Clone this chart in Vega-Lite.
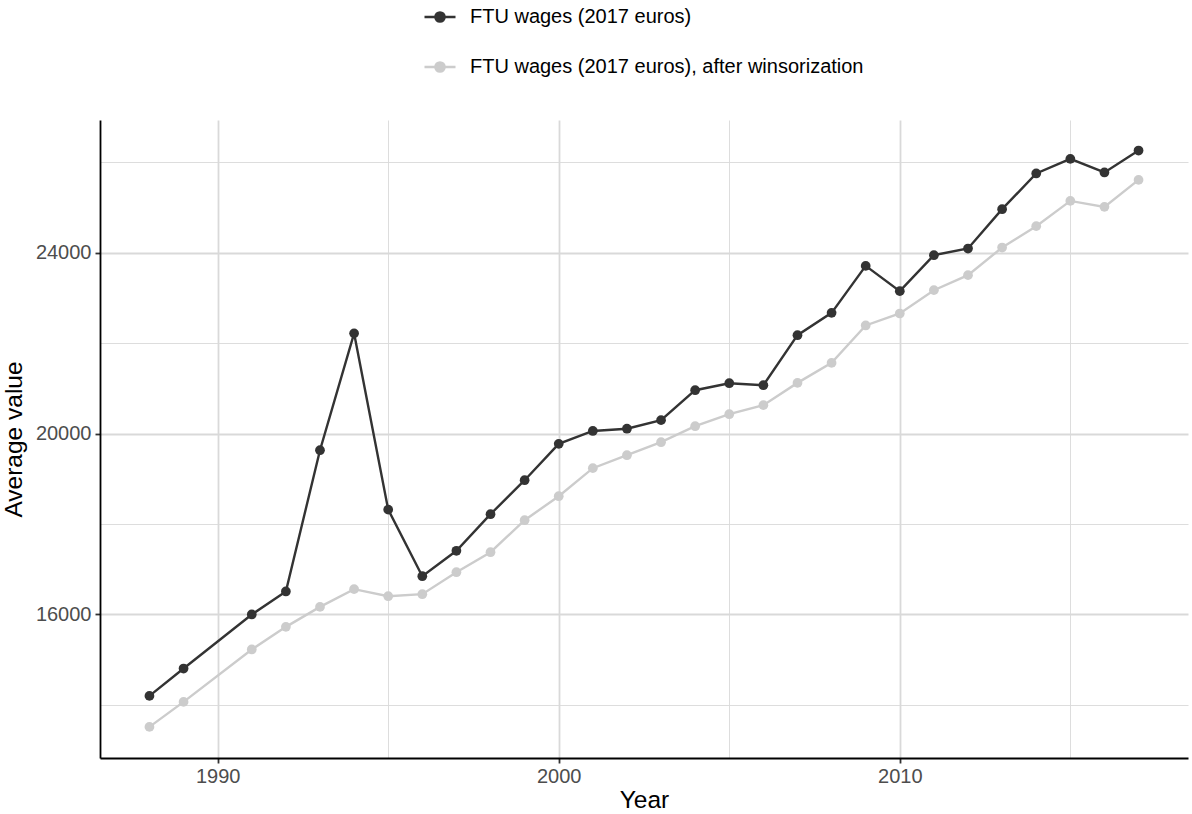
{
  "$schema": "https://vega.github.io/schema/vega-lite/v6.json",
  "width": 1088,
  "height": 638,
  "autosize": {"type": "none"},
  "padding": {"left": 100, "top": 120, "right": 4, "bottom": 56},
  "config": {
    "view": {"stroke": null},
    "font": "Liberation Sans",
    "axis": {
      "gridColor": "#d9d9d9",
      "domainColor": "#000000",
      "domainWidth": 1.8,
      "tickColor": "#333333",
      "tickSize": 5,
      "tickWidth": 1.8,
      "labelFontSize": 20,
      "labelColor": "#4d4d4d",
      "labelFont": "Liberation Sans",
      "titleFont": "Liberation Sans",
      "titleFontSize": 24.5,
      "titleFontWeight": "normal",
      "titleColor": "#000000"
    }
  },
  "data": {
    "values": [
      {"year": 1988, "value": 14199, "series": "FTU wages (2017 euros)"},
      {"year": 1989, "value": 14805, "series": "FTU wages (2017 euros)"},
      {"year": 1991, "value": 16000, "series": "FTU wages (2017 euros)"},
      {"year": 1992, "value": 16510, "series": "FTU wages (2017 euros)"},
      {"year": 1993, "value": 19635, "series": "FTU wages (2017 euros)"},
      {"year": 1994, "value": 22220, "series": "FTU wages (2017 euros)"},
      {"year": 1995, "value": 18320, "series": "FTU wages (2017 euros)"},
      {"year": 1996, "value": 16847, "series": "FTU wages (2017 euros)"},
      {"year": 1997, "value": 17410, "series": "FTU wages (2017 euros)"},
      {"year": 1998, "value": 18219, "series": "FTU wages (2017 euros)"},
      {"year": 1999, "value": 18971, "series": "FTU wages (2017 euros)"},
      {"year": 2000, "value": 19775, "series": "FTU wages (2017 euros)"},
      {"year": 2001, "value": 20060, "series": "FTU wages (2017 euros)"},
      {"year": 2002, "value": 20110, "series": "FTU wages (2017 euros)"},
      {"year": 2003, "value": 20300, "series": "FTU wages (2017 euros)"},
      {"year": 2004, "value": 20962, "series": "FTU wages (2017 euros)"},
      {"year": 2005, "value": 21117, "series": "FTU wages (2017 euros)"},
      {"year": 2006, "value": 21073, "series": "FTU wages (2017 euros)"},
      {"year": 2007, "value": 22179, "series": "FTU wages (2017 euros)"},
      {"year": 2008, "value": 22673, "series": "FTU wages (2017 euros)"},
      {"year": 2009, "value": 23712, "series": "FTU wages (2017 euros)"},
      {"year": 2010, "value": 23153, "series": "FTU wages (2017 euros)"},
      {"year": 2011, "value": 23949, "series": "FTU wages (2017 euros)"},
      {"year": 2012, "value": 24097, "series": "FTU wages (2017 euros)"},
      {"year": 2013, "value": 24967, "series": "FTU wages (2017 euros)"},
      {"year": 2014, "value": 25757, "series": "FTU wages (2017 euros)"},
      {"year": 2015, "value": 26080, "series": "FTU wages (2017 euros)"},
      {"year": 2016, "value": 25779, "series": "FTU wages (2017 euros)"},
      {"year": 2017, "value": 26265, "series": "FTU wages (2017 euros)"},
      {"year": 1988, "value": 13513, "series": "FTU wages (2017 euros), after winsorization"},
      {"year": 1989, "value": 14066, "series": "FTU wages (2017 euros), after winsorization"},
      {"year": 1991, "value": 15226, "series": "FTU wages (2017 euros), after winsorization"},
      {"year": 1992, "value": 15726, "series": "FTU wages (2017 euros), after winsorization"},
      {"year": 1993, "value": 16168, "series": "FTU wages (2017 euros), after winsorization"},
      {"year": 1994, "value": 16560, "series": "FTU wages (2017 euros), after winsorization"},
      {"year": 1995, "value": 16405, "series": "FTU wages (2017 euros), after winsorization"},
      {"year": 1996, "value": 16449, "series": "FTU wages (2017 euros), after winsorization"},
      {"year": 1997, "value": 16936, "series": "FTU wages (2017 euros), after winsorization"},
      {"year": 1998, "value": 17378, "series": "FTU wages (2017 euros), after winsorization"},
      {"year": 1999, "value": 18086, "series": "FTU wages (2017 euros), after winsorization"},
      {"year": 2000, "value": 18617, "series": "FTU wages (2017 euros), after winsorization"},
      {"year": 2001, "value": 19237, "series": "FTU wages (2017 euros), after winsorization"},
      {"year": 2002, "value": 19524, "series": "FTU wages (2017 euros), after winsorization"},
      {"year": 2003, "value": 19812, "series": "FTU wages (2017 euros), after winsorization"},
      {"year": 2004, "value": 20166, "series": "FTU wages (2017 euros), after winsorization"},
      {"year": 2005, "value": 20431, "series": "FTU wages (2017 euros), after winsorization"},
      {"year": 2006, "value": 20631, "series": "FTU wages (2017 euros), after winsorization"},
      {"year": 2007, "value": 21124, "series": "FTU wages (2017 euros), after winsorization"},
      {"year": 2008, "value": 21566, "series": "FTU wages (2017 euros), after winsorization"},
      {"year": 2009, "value": 22394, "series": "FTU wages (2017 euros), after winsorization"},
      {"year": 2010, "value": 22659, "series": "FTU wages (2017 euros), after winsorization"},
      {"year": 2011, "value": 23175, "series": "FTU wages (2017 euros), after winsorization"},
      {"year": 2012, "value": 23507, "series": "FTU wages (2017 euros), after winsorization"},
      {"year": 2013, "value": 24119, "series": "FTU wages (2017 euros), after winsorization"},
      {"year": 2014, "value": 24591, "series": "FTU wages (2017 euros), after winsorization"},
      {"year": 2015, "value": 25150, "series": "FTU wages (2017 euros), after winsorization"},
      {"year": 2016, "value": 25018, "series": "FTU wages (2017 euros), after winsorization"},
      {"year": 2017, "value": 25615, "series": "FTU wages (2017 euros), after winsorization"}
    ]
  },
  "mark": {"type": "line", "strokeWidth": 2.4, "point": {"filled": true, "size": 95, "opacity": 1}},
  "encoding": {
    "x": {
      "field": "year",
      "type": "quantitative",
      "scale": {"domain": [1986.55, 2018.45], "nice": false, "zero": false},
      "axis": {
        "values": [1990, 1995, 2000, 2005, 2010, 2015],
        "labelExpr": "datum.value % 10 === 0 ? datum.label : ''",
        "format": "d",
        "grid": true,
        "gridWidth": {"condition": {"test": "datum.value % 10 === 0", "value": 1.8}, "value": 0.9},
        "tickOpacity": {"condition": {"test": "datum.value % 10 === 0", "value": 1}, "value": 0},
        "labelPadding": 3,
        "title": "Year",
        "titlePadding": 2
      }
    },
    "y": {
      "field": "value",
      "type": "quantitative",
      "scale": {"domain": [12825, 26940], "nice": false, "zero": false},
      "axis": {
        "values": [14000, 16000, 18000, 20000, 22000, 24000, 26000],
        "labelExpr": "datum.value % 4000 === 0 ? format(datum.value, 'd') : ''",
        "grid": true,
        "gridWidth": {"condition": {"test": "datum.value % 4000 === 0", "value": 1.8}, "value": 0.9},
        "tickOpacity": {"condition": {"test": "datum.value % 4000 === 0", "value": 1}, "value": 0},
        "labelPadding": 4,
        "title": "Average value",
        "titleX": -74,
        "titleBaseline": "bottom"
      }
    },
    "color": {
      "field": "series",
      "type": "nominal",
      "scale": {
        "domain": ["FTU wages (2017 euros)", "FTU wages (2017 euros), after winsorization"],
        "range": ["#333333", "#cccccc"]
      },
      "legend": {
        "orient": "none",
        "legendX": 323,
        "legendY": -120,
        "direction": "vertical",
        "title": null,
        "symbolType": "M-1,0L1,0M-0.3,0A0.3,0.3,0,1,1,0.3,0A0.3,0.3,0,1,1,-0.3,0Z",
        "symbolSize": 961,
        "symbolStrokeWidth": 2.4,
        "labelFontSize": 20,
        "labelLimit": 0,
        "labelColor": "#000000",
        "labelFont": "Liberation Sans",
        "labelOffset": 13,
        "rowPadding": 23,
        "encode": {
          "symbols": {
            "update": {
              "fill": {"scale": "color", "field": "value"},
              "stroke": {"scale": "color", "field": "value"}
            }
          }
        }
      }
    }
  }
}
